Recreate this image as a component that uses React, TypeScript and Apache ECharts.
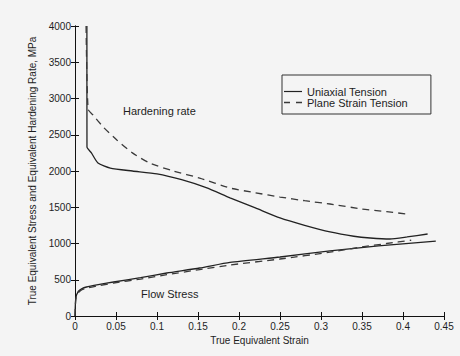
import React, { useEffect, useRef } from "react";
import * as echarts from "echarts";

const xTicks = [0, 0.05, 0.1, 0.15, 0.2, 0.25, 0.3, 0.35, 0.4, 0.45];
const yTicks = [0, 500, 1000, 1500, 2000, 2500, 3000, 3500, 4000];

const uniaxialHardening: [number, number][] = [
  [0.0145, 4000], [0.0146, 2330], [0.02, 2250], [0.028, 2110], [0.043, 2040],
  [0.07, 2000], [0.1, 1960], [0.13, 1880], [0.16, 1770], [0.189, 1630],
  [0.22, 1490], [0.25, 1352], [0.28, 1250], [0.311, 1159], [0.34, 1100],
  [0.36, 1076], [0.384, 1062], [0.405, 1090], [0.43, 1131],
];
const planeStrainHardening: [number, number][] = [
  [0.0135, 4000], [0.016, 2850], [0.022, 2772], [0.035, 2600], [0.051, 2428],
  [0.07, 2250], [0.091, 2110], [0.12, 2000], [0.152, 1903], [0.189, 1765],
  [0.22, 1700], [0.25, 1641], [0.28, 1590], [0.311, 1545], [0.35, 1476],
  [0.38, 1440], [0.404, 1407],
];
const uniaxialFlow: [number, number][] = [
  [0, 0], [0.001, 250], [0.004, 340], [0.008, 375], [0.014, 400], [0.03, 435],
  [0.047, 469], [0.08, 530], [0.112, 593], [0.152, 662], [0.189, 740],
  [0.25, 814], [0.311, 897], [0.37, 966], [0.44, 1034],
];
const planeStrainFlow: [number, number][] = [
  [0, 0], [0.001, 230], [0.004, 320], [0.008, 360], [0.014, 385], [0.03, 420],
  [0.047, 455], [0.08, 510], [0.112, 570], [0.152, 640], [0.189, 703],
  [0.25, 786], [0.311, 880], [0.35, 952], [0.38, 1000], [0.41, 1045],
];

const FONT = "Liberation Sans";
const INK = "#1e1e1e";

export default function App() {
  const ref = useRef<HTMLDivElement>(null);
  useEffect(() => {
    if (!ref.current) return;
    const chart = echarts.init(ref.current, undefined, { renderer: "svg" });
    const solid = { color: "#222", width: 1.3, type: "solid" as const };
    const dashed = { color: "#3a3a3a", width: 1.3, type: [7, 5] as any };
    const mkSeries = (name: string, data: [number, number][], ls: any) => ({
      type: "line",
      name,
      data,
      showSymbol: false,
      symbol: "none",
      lineStyle: ls,
      clip: true,
      smooth: 0.2,
    });
    const axisLine = { show: true, lineStyle: { color: "#111", width: 1 } };
    const tick = { show: true, inside: true, length: 4, lineStyle: { color: "#111" } };
    chart.setOption({
      animation: false,
      backgroundColor: "#f4f4f4",
      textStyle: { fontFamily: FONT },
      grid: { left: 75, right: 16, top: 26, bottom: 40, show: false },
      legend: {
        show: true,
        left: 282,
        top: 75,
        orient: "vertical",
        width: 144,
        padding: [11, 23, 6, 2],
        itemGap: 0,
        itemWidth: 18,
        itemHeight: 11,
        borderColor: "#333",
        borderWidth: 1,
        backgroundColor: "#f4f4f4",
        textStyle: { fontFamily: FONT, fontSize: 11, color: INK },
        data: [
          { name: "Uniaxial Tension", icon: "path://M0,5L18,5L18,6.2L0,6.2Z", itemStyle: { color: "#222" } },
          { name: "Plane Strain Tension", icon: "path://M0,5L5,5L5,6.2L0,6.2ZM10,5L15,5L15,6.2L10,6.2Z", itemStyle: { color: "#3a3a3a" } },
        ],
      },
      xAxis: [
        {
          type: "value",
          min: 0,
          max: 0.45,
          interval: 0.05,
          name: "True Equivalent Strain",
          nameLocation: "middle",
          nameGap: 17,
          nameTextStyle: { fontSize: 10, color: INK, fontFamily: FONT },
          axisLine,
          axisTick: tick,
          splitLine: { show: false },
          axisLabel: {
            fontSize: 10,
            color: INK,
            margin: 5,
            formatter: (v: number) => {
              const f = xTicks.find((t) => Math.abs(t - v) < 1e-9);
              return f === undefined ? "" : String(f);
            },
          },
        },
        {
          type: "value",
          position: "top",
          min: 0,
          max: 0.45,
          interval: 0.05,
          axisLine,
          axisTick: tick,
          axisLabel: { show: false },
          splitLine: { show: false },
        },
      ],
      yAxis: [
        {
          type: "value",
          min: 0,
          max: 4000,
          interval: 500,
          name: "True Equivalent Stress and Equivalent Hardening Rate, MPa",
          nameLocation: "middle",
          nameGap: 30,
          nameTextStyle: { fontSize: 10, color: INK, fontFamily: FONT },
          axisLine,
          axisTick: tick,
          splitLine: { show: false },
          axisLabel: {
            fontSize: 10,
            color: INK,
            margin: 4,
            formatter: (v: number) => (yTicks.includes(v) ? String(v) : ""),
          },
        },
        {
          type: "value",
          position: "right",
          min: 0,
          max: 4000,
          interval: 500,
          axisLine,
          axisTick: tick,
          axisLabel: { show: false },
          splitLine: { show: false },
        },
      ],
      graphic: [
        { type: "text", left: 123, top: 105, style: { text: "Hardening rate", fontSize: 11, fill: INK, fontFamily: FONT } },
        { type: "text", left: 141, top: 288, style: { text: "Flow Stress", fontSize: 11, fill: INK, fontFamily: FONT } },
      ],
      series: [
        mkSeries("Uniaxial Tension", uniaxialHardening, solid),
        mkSeries("Plane Strain Tension", planeStrainHardening, dashed),
        { ...mkSeries("Uniaxial Tension", uniaxialFlow, solid) },
        { ...mkSeries("Plane Strain Tension", planeStrainFlow, dashed) },
      ],
    });
    return () => chart.dispose();
  }, []);
  return <div ref={ref} style={{ width: 460, height: 356, position: "absolute", left: 0, top: 0 }} />;
}
